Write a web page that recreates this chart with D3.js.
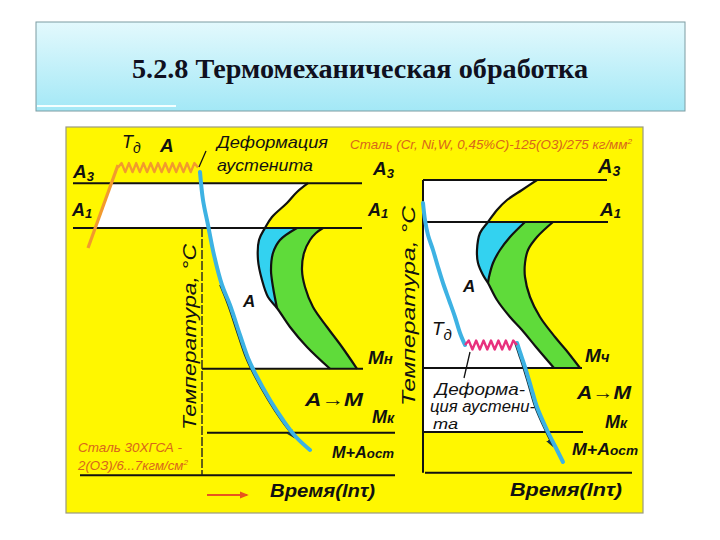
<!DOCTYPE html>
<html><head><meta charset="utf-8">
<script src="https://cdn.jsdelivr.net/npm/d3@7"></script>
<style>body{margin:0;background:#fff}</style>
</head><body>
<svg id="c" width="720" height="540"></svg>
<script>
// ---------------- data ----------------
const titleText = "5.2.8 Термомеханическая обработка";
// critical temperature levels (schematic °C): A3, A1, Mн, Mк, time-axis level
const leftLevels  = [842, 730, 378, 218, 112];
const rightLevels = [850, 745, 380, 220, 118];
// time extent (ln τ, schematic) of each level line
const leftLineSpans  = [[-12.7,16.2],[-12.7,16.2],[0.2,16.3],[0.7,19.5],[-12,19.5]];
const rightLineSpans = [[0,18.4],[0,18.5],[0,15.9],[0,16.0],[0.2,20.9]];
const leftAxisT = 0.2, rightAxisT = 0;

// left diagram (steel 30ХГСА): heating, deformation at Tд, cooling
const leftHeating = [[-11.2,680],[-8.2,887.5]];
const leftDeform  = [[-8.2,881],[-0.2,881]];
const leftCooling = [[0,870],[0.3,800],[0.8,737.5],[1.4,662.5],[2.2,587.5],[3.0,537.5],[4.0,462.5],
                     [4.8,405],[5.6,362.5],[7.0,300],[8.3,250],[9.6,207.5],[11.0,175]];
const leftStart = [[10.8,842],[9.7,820],[8.7,792.5],[7.2,757.5],[6.5,730],[5.9,700],[5.8,650],[6.2,600],
                   [6.8,557.5],[7.7,530],[9.0,482.5],[10.7,432.5],[13.0,378]];
const leftMid   = [[9.7,730],[8.0,700],[7.3,667.5],[7.1,625],[7.3,582.5],[7.7,530]];
const leftEnd   = [[12.3,730],[11.6,717.5],[11.0,700],[10.4,667.5],[10.2,625],[10.5,582.5],[11.3,532.5],
                   [12.7,482.5],[14.2,432.5],[15.7,378]];

// right diagram (steel Cr,Ni,W 0.45%C)
const rightCooling1 = [[0,792.5],[0.2,750],[0.5,712.5],[1.0,675],[1.5,632.5],[2.0,592.5],[2.6,550],
                       [3.2,507.5],[3.7,467.5],[4.2,437.5]];
const rightDeform   = [[4.2,437.5],[9.4,437.5]];
const rightCooling2 = [[9.4,442.5],[9.8,412.5],[10.2,382.5],[10.8,332.5],[11.4,282.5],[12.4,225],
                       [13.2,185],[14.0,145]];
const rightStart = [[11.4,850],[9.9,825],[8.4,800],[7.4,775],[6.5,745],[5.7,717.5],[5.4,675],[5.5,642.5],
                    [6.0,612.5],[6.5,592.5],[7.4,550],[8.7,507.5],[9.9,475],[11.3,432.5],[13.1,380]];
const rightMid   = [[10.2,745],[8.7,707.5],[7.7,675],[7.0,642.5],[6.6,607.5],[6.5,592.5]];
const rightEnd   = [[13.0,745],[11.4,707.5],[10.5,675],[10.2,642.5],[10.2,607.5],[10.7,557.5],[11.7,507.5],
                    [13.2,457.5],[14.3,425],[15.7,380]];

// ---------------- scales ----------------
const yT = d3.scaleLinear().domain([0,1000]).range([520,120]);
const xL = d3.scaleLinear().domain([0,10]).range([200,300]);
const xR = d3.scaleLinear().domain([0,10]).range([423,523]);

const svg = d3.select('#c');
const defs = svg.append('defs');
const grad = defs.append('linearGradient').attr('id','tg').attr('x1',0).attr('y1',0).attr('x2',0).attr('y2',1);
grad.append('stop').attr('offset','0%').attr('stop-color','#e3f9fd');
grad.append('stop').attr('offset','100%').attr('stop-color','#a3e8f6');
function marker(id, color, size){
  defs.append('marker').attr('id',id).attr('viewBox','0 0 10 10').attr('refX',8).attr('refY',5)
    .attr('markerWidth',size).attr('markerHeight',size).attr('orient','auto-start-reverse')
    .attr('markerUnits','userSpaceOnUse')
    .append('path').attr('d','M0,1 L10,5 L0,9 Z').attr('fill',color);
}
marker('arrOr','#e8541e',9);
marker('arrDk','#15303a',9);

// ---------------- title ----------------
svg.append('rect').attr('x',36).attr('y',22).attr('width',649).attr('height',89)
  .attr('fill','url(#tg)').attr('stroke','#7c9ca2').attr('stroke-width',1);
svg.append('line').attr('x1',37).attr('x2',176).attr('y1',106).attr('y2',106)
  .attr('stroke','#f4ffff').attr('stroke-width',2);
svg.append('text').attr('x',360).attr('y',78).attr('text-anchor','middle')
  .attr('font-family',"'Liberation Serif','Times New Roman',serif").attr('font-weight','bold')
  .attr('font-size',28).attr('fill','#101020').attr('textLength',456).attr('lengthAdjust','spacingAndGlyphs')
  .text(titleText);

// ---------------- panel ----------------
svg.append('rect').attr('x',66).attr('y',127).attr('width',577).attr('height',386)
  .attr('fill','#fff700').attr('stroke','#9a9a80').attr('stroke-width',1.2);

// ---------------- helpers ----------------
const cr = d3.line().curve(d3.curveCatmullRom.alpha(0.5));
const lin = d3.line();
const P = (xs, pts) => pts.map(([t,T]) => [xs(t), yT(T)]);
function tAt(pts, T){
  for (let i=0;i<pts.length-1;i++){
    const [t0,T0]=pts[i],[t1,T1]=pts[i+1];
    if ((T-T0)*(T-T1) <= 0 && T0!==T1) return t0 + (t1-t0)*(T-T0)/(T1-T0);
  }
  return pts[pts.length-1][0];
}
function sliceT(pts, Ta, Tb){ // Ta > Tb
  const out=[[tAt(pts,Ta),Ta]];
  pts.forEach(p=>{ if (p[1]<Ta && p[1]>Tb) out.push(p); });
  out.push([tAt(pts,Tb),Tb]);
  return out;
}
function joinPaths(parts){ return parts.map((p,i)=> i ? p.replace(/^M/,'L') : p).join('') + 'Z'; }
function zigzag(x1,x2,y,amp,period){
  const n = Math.max(2, Math.round((x2-x1)/(period/2)));
  const pts=[[x1,y]];
  for(let i=1;i<n;i++) pts.push([x1+i*(x2-x1)/n, y+(i%2? -amp: amp)]);
  pts.push([x2,y]);
  return lin(pts);
}
const BLUE='#33d2f0', GREEN='#5fdb3a', COOL='#3db2e3';

// ---------------- left diagram ----------------
{
  const [A3,A1,Mn,Mk,B] = leftLevels;
  const white = joinPaths([
    lin(P(xL,[[tAt(leftHeating,A3),A3], leftStart[0]])),
    cr(P(xL,leftStart)),
    lin(P(xL,[leftStart[leftStart.length-1],[tAt(leftCooling,Mn),Mn]])),
    cr(P(xL,sliceT(leftCooling,A1,Mn).reverse())),
    lin(P(xL,[[tAt(leftCooling,A1),A1],[tAt(leftHeating,A1),A1]]))
  ]);
  svg.append('path').attr('d',white).attr('fill','#fff');
  svg.append('path').attr('d',joinPaths([cr(P(xL,leftStart.slice(4,10))), cr(P(xL,leftMid.slice().reverse()))]))
    .attr('fill',BLUE);
  svg.append('path').attr('d',joinPaths([cr(P(xL,leftMid)), cr(P(xL,leftStart.slice(9))), cr(P(xL,leftEnd.slice().reverse()))]))
    .attr('fill',GREEN);
  leftLevels.forEach((T,i)=>{
    svg.append('line').attr('x1',xL(leftLineSpans[i][0])).attr('x2',xL(leftLineSpans[i][1]))
      .attr('y1',yT(T)).attr('y2',yT(T)).attr('stroke','#111').attr('stroke-width',2);
  });
  svg.append('line').attr('x1',xL(leftAxisT)).attr('x2',xL(leftAxisT)).attr('y1',yT(A1)).attr('y2',yT(B))
    .attr('stroke','#222').attr('stroke-width',1.4).attr('stroke-dasharray','9,2');
  [leftStart,leftMid,leftEnd].forEach(c=> svg.append('path').attr('d',cr(P(xL,c))).attr('fill','none')
    .attr('stroke','#111').attr('stroke-width',2.2));
  svg.append('path').attr('d',lin(P(xL,leftHeating))).attr('stroke','#f29a2e').attr('stroke-width',3.2).attr('fill','none');
  const dz = P(xL,leftDeform);
  svg.append('path').attr('d',zigzag(dz[0][0],dz[1][0],dz[0][1],4.5,7.4)).attr('stroke','#f29a2e')
    .attr('stroke-width',2.4).attr('fill','none').attr('stroke-linejoin','round');
  const dark = P(xL,leftCooling.slice(4,12)).map(([x,y])=>[x-2.2,y]);
  svg.append('path').attr('d',cr(dark)).attr('stroke','#15303a').attr('stroke-width',1.3).attr('fill','none')
    .attr('marker-end','url(#arrDk)');
  svg.append('path').attr('d',cr(P(xL,leftCooling))).attr('stroke',COOL).attr('stroke-width',4)
    .attr('fill','none').attr('stroke-linecap','round');
}

// ---------------- right diagram ----------------
{
  const [A3,A1,Mn,Mk,B] = rightLevels;
  const white = joinPaths([
    lin(P(xR,[[rightAxisT,A3], rightStart[0]])),
    cr(P(xR,rightStart)),
    lin(P(xR,[rightStart[rightStart.length-1],[tAt(rightCooling2,Mn),Mn]])),
    cr(P(xR,sliceT(rightCooling2,Mn,Mk))),
    lin(P(xR,[[tAt(rightCooling2,Mk),Mk],[rightAxisT,Mk]]))
  ]);
  svg.append('path').attr('d',white).attr('fill','#fff');
  svg.append('path').attr('d',joinPaths([cr(P(xR,rightStart.slice(4,10))), cr(P(xR,rightMid.slice().reverse()))]))
    .attr('fill',BLUE);
  svg.append('path').attr('d',joinPaths([cr(P(xR,rightMid)), cr(P(xR,rightStart.slice(9))), cr(P(xR,rightEnd.slice().reverse()))]))
    .attr('fill',GREEN);
  rightLevels.forEach((T,i)=>{
    svg.append('line').attr('x1',xR(rightLineSpans[i][0])).attr('x2',xR(rightLineSpans[i][1]))
      .attr('y1',yT(T)).attr('y2',yT(T)).attr('stroke','#111').attr('stroke-width',2);
  });
  svg.append('line').attr('x1',xR(rightAxisT)).attr('x2',xR(rightAxisT)).attr('y1',yT(A3)).attr('y2',yT(B))
    .attr('stroke','#111').attr('stroke-width',2);
  [rightStart,rightMid,rightEnd].forEach(c=> svg.append('path').attr('d',cr(P(xR,c))).attr('fill','none')
    .attr('stroke','#111').attr('stroke-width',2.2));
  const dark = P(xR,rightCooling2.slice(0,7)).map(([x,y])=>[x-2.2,y]);
  svg.append('path').attr('d',cr(dark)).attr('stroke','#15303a').attr('stroke-width',1.3).attr('fill','none')
    .attr('marker-end','url(#arrDk)');
  svg.append('path').attr('d',cr(P(xR,rightCooling1))).attr('stroke',COOL).attr('stroke-width',4)
    .attr('fill','none').attr('stroke-linecap','round');
  svg.append('path').attr('d',cr(P(xR,rightCooling2))).attr('stroke',COOL).attr('stroke-width',4)
    .attr('fill','none').attr('stroke-linecap','round');
  const dz = P(xR,rightDeform);
  svg.append('path').attr('d',zigzag(dz[0][0],dz[1][0],dz[0][1],4.5,7.2)).attr('stroke','#e8307e')
    .attr('stroke-width',2.4).attr('fill','none').attr('stroke-linejoin','round');
}

// ---------------- labels ----------------
const HAND = "'Liberation Sans', Arial, sans-serif";
function label(x, y, parts, o={}){
  const t = svg.append('text').attr('x',x).attr('y',y).attr('font-family',HAND)
    .attr('font-style','italic').attr('font-weight', o.w || 'bold').attr('font-size', o.size || 19)
    .attr('fill', o.fill || '#111');
  if (o.len) t.attr('textLength',o.len).attr('lengthAdjust','spacingAndGlyphs');
  if (o.rot) t.attr('transform',`rotate(-90 ${x} ${y})`).attr('text-anchor','middle');
  let shift = 0;
  parts.forEach(p=>{
    const [txt, sz, dy] = Array.isArray(p) ? p : [p, null, 0];
    const s = t.append('tspan').text(txt);
    if (sz) s.attr('font-size', sz);
    if (dy - shift) s.attr('dy', dy - shift);
    shift = dy;
  });
  return t;
}
// left
label(122,148,['Т',['д',14,5]],{size:18,w:'normal'});
label(160,152,['А'],{size:19});
label(73,178,['А',['3',13,3]],{size:19});
label(72,216,['А',['1',13,2]],{size:18});
label(217,148,['Деформация'],{size:17,w:'normal',len:111});
label(217,171,['аустенита'],{size:17,w:'normal',len:96});
svg.append('line').attr('x1',199).attr('y1',167).attr('x2',206).attr('y2',151).attr('stroke','#111').attr('stroke-width',1.3);
label(350,149,['Сталь (Cr, Ni,W, 0,45%C)-125(O3)/275 кг/мм',['2',8,-5]],{size:13,w:'normal',fill:'#d8661c',len:282});
label(373,175,['А',['3',13,3]],{size:19});
label(368,216,['А',['1',13,2]],{size:18});
label(196,337,['Температура, °С'],{size:18,w:'normal',rot:true,len:186});
label(243,307,['А'],{size:17});
label(368,364,['М',['н',15,0]],{size:19});
label(305,406,['А→М'],{size:19,len:58});
label(372,423,['М',['к',14,0]],{size:18});
label(332,458,['М+А',['ост',13,0]],{size:16,len:62});
label(270,497,['Время(lnτ)'],{size:18,len:105});
svg.append('line').attr('x1',207).attr('x2',247).attr('y1',495).attr('y2',495).attr('stroke','#e8541e')
  .attr('stroke-width',1.8).attr('marker-end','url(#arrOr)');
label(78,452,['Сталь 30ХГСА -'],{size:13,w:'normal',fill:'#d8661c',len:104});
label(78,470,['2(ОЗ)/6...7кгм/см',['2',8,-5]],{size:13,w:'normal',fill:'#d8661c',len:110});
// right
label(598,173,['А',['3',14,3]],{size:20});
label(600,216,['А',['1',13,2]],{size:19});
label(415,306,['Температура, °С'],{size:18,w:'normal',rot:true,len:200});
label(463,292,['А'],{size:17});
label(432,335,['Т',['д',15,5]],{size:19,w:'normal'});
label(585,362,['М',['ч',15,0]],{size:19});
label(577,399,['А→М'],{size:19,len:54});
label(605,428,['М',['к',14,0]],{size:18});
label(572,455,['М+А',['ост',13,0]],{size:17,len:66});
label(510,496,['Время(lnτ)'],{size:18,len:112});
label(435,395,['Деформа-'],{size:17,w:'normal',len:90});
label(430,412,['ция аустени-'],{size:16,w:'normal',len:105});
label(433,429,['та'],{size:14,w:'normal',len:25});
svg.append('line').attr('x1',470).attr('y1',352).attr('x2',464).attr('y2',378).attr('stroke','#111').attr('stroke-width',1.3);
</script>
</body></html>
